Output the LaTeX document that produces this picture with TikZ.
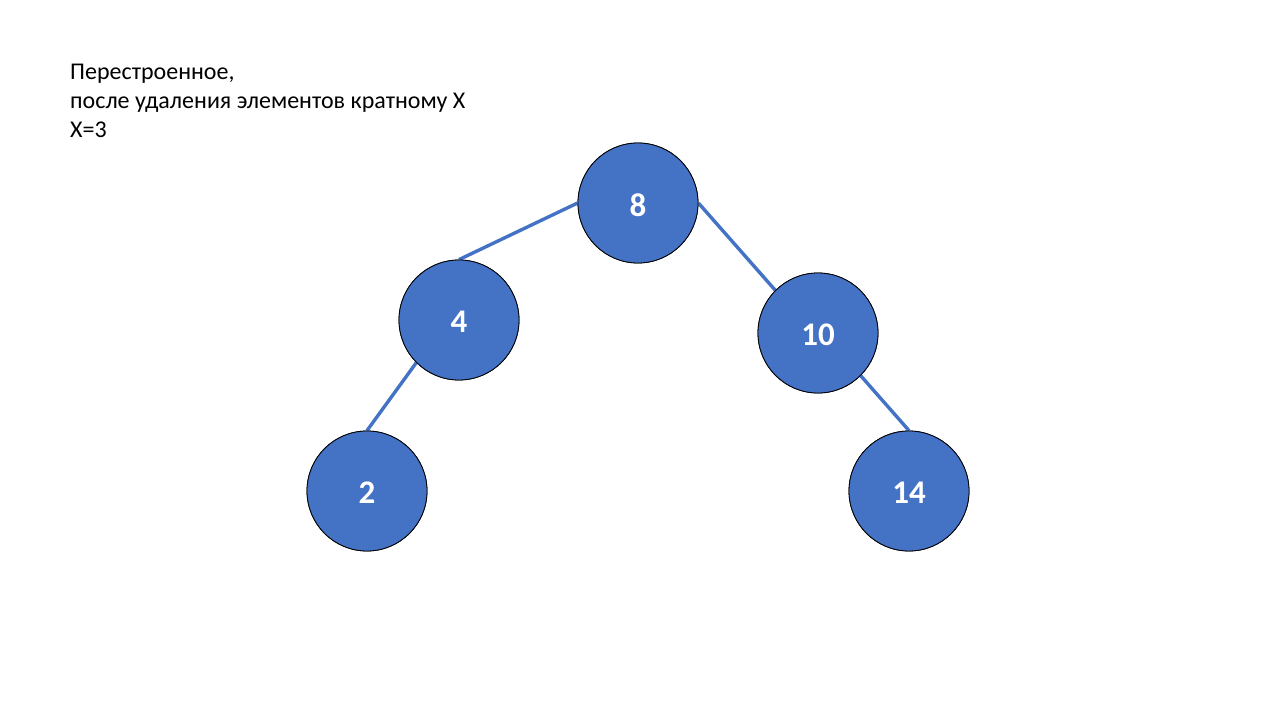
\documentclass[tikz,border=0pt]{standalone}
\usepackage{fontspec}
\setmainfont{Carlito}
\definecolor{nodeblue}{HTML}{4472C4}
\begin{document}
\begin{tikzpicture}[x=1pt,y=-1pt,
  treenode/.style={circle,draw=black,line width=0.8pt,fill=nodeblue,
    minimum size=120pt,inner sep=0pt,text=white,
    font=\fontsize{33}{38}\selectfont\bfseries},
  numtext/.style={text=white,inner sep=0pt,yshift=-2pt,
    font=\fontsize{33}{38}\selectfont\bfseries},
  edge/.style={draw=nodeblue,line width=3.4pt},
  caption/.style={anchor=base west,inner sep=0pt,
    font=\fontsize{24}{29}\selectfont}]
  \useasboundingbox[fill=white] (0,0) rectangle (1280,720);

  % caption lines
  \node[caption] (t1) at (70,79) {Перестроенное,};
  \node[caption] (t2) at (70,108) {после удаления элементов кратному X};
  \node[caption] (t3) at (70,137) {X=3};

  % tree positions
  \node[treenode] (n8)  at (638,203) {};
  \node[treenode] (n4)  at (459,320) {};
  \node[treenode] (n10) at (818,333) {};
  \node[treenode] (n2)  at (367,491) {};
  \node[treenode] (n14) at (909,491) {};

  % connectors
  \draw[edge] (n8.west) -- (n4.north);
  \draw[edge] (n8.east) -- (n10.135);
  \draw[edge] (n4.225) -- (n2.north);
  \draw[edge] (n10.315) -- (n14.north);

  % circles drawn over the connector ends
  \foreach \n in {n8,n4,n10,n2,n14}
    \node[treenode] at (\n) {};

  % values
  \node[numtext] (v8)  at (n8)  {8};
  \node[numtext] (v4)  at (n4)  {4};
  \node[numtext] (v10) at (n10) {10};
  \node[numtext] (v2)  at (n2)  {2};
  \node[numtext] (v14) at (n14) {14};
\end{tikzpicture}
\end{document}
